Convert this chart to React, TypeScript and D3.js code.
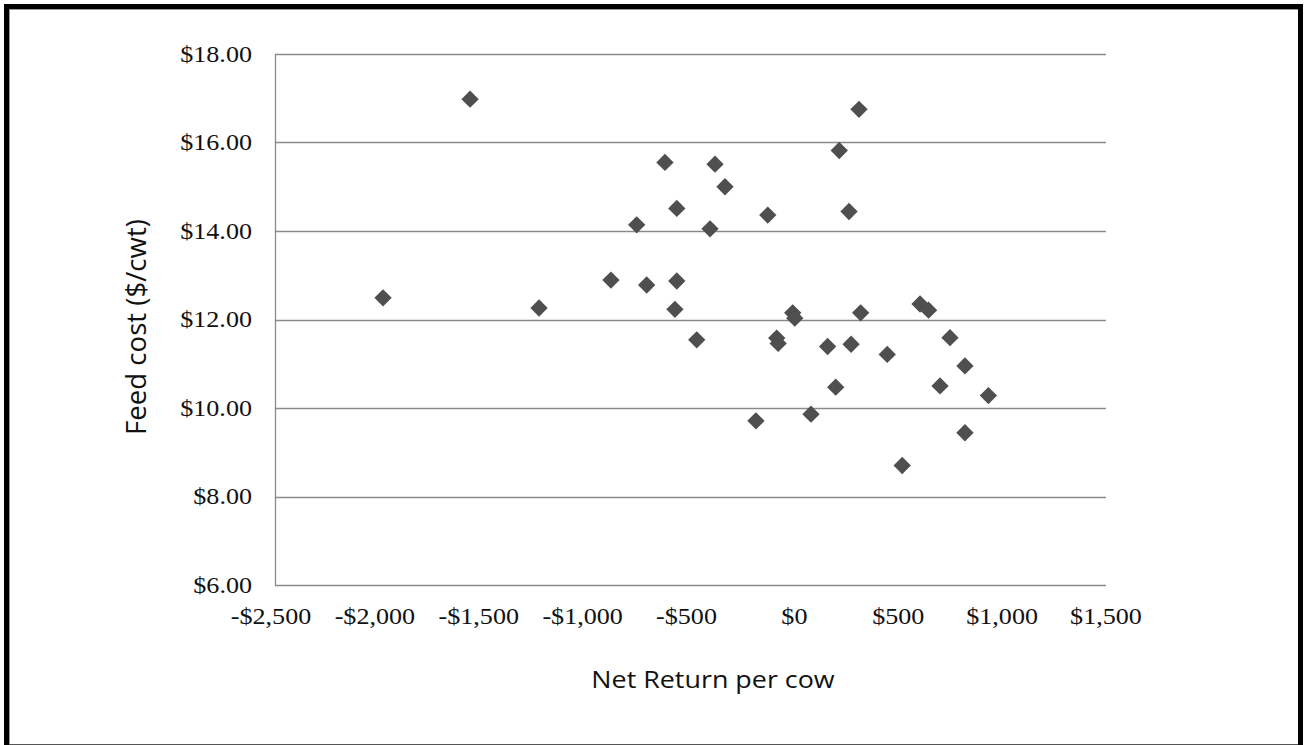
import React, { useEffect, useRef } from "react";
import * as d3 from "d3";

const netReturn = [
  -1980, -1561, -1229, -883, -759, -711, -623, -566, -566, -575, -382, -334, -406, -128, -470,
  311, 216, 263, -8, 2, 319, 605, 646, -85, -78, 160, 273, 447, 749, 821, 199, 701, 934, -185,
  80, 821, 519,
];
const feedCost = [
  12.49, 16.98, 12.26, 12.89, 14.14, 12.78, 15.55, 14.51, 12.87, 12.23, 15.51, 15.0, 14.05, 14.36,
  11.54, 16.75, 15.82, 14.44, 12.15, 12.03, 12.15, 12.35, 12.21, 11.58, 11.46, 11.39, 11.44, 11.21,
  11.59, 10.95, 10.47, 10.5, 10.28, 9.71, 9.86, 9.44, 8.7,
];
const xTicks = [-2500, -2000, -1500, -1000, -500, 0, 500, 1000, 1500];
const yTicks = [6, 8, 10, 12, 14, 16, 18];
const xTitle = "Net Return per cow";
const yTitle = "Feed cost ($/cwt)";

const W = 1304;
const H = 745;
const plot = { left: 275, right: 1106, top: 54, bottom: 585 };

const diamond = {
  draw(ctx: any, size: number) {
    const r = Math.sqrt(size / 2);
    ctx.moveTo(0, -r);
    ctx.lineTo(r, 0);
    ctx.lineTo(0, r);
    ctx.lineTo(-r, 0);
    ctx.closePath();
  },
};

export default function App() {
  const ref = useRef<SVGSVGElement>(null);

  useEffect(() => {
    const svg = d3.select(ref.current);
    svg.selectAll("*").remove();

    const x = d3.scaleLinear().domain([-2500, 1500]).range([plot.left, plot.right]);
    const y = d3.scaleLinear().domain([6, 18]).range([plot.bottom, plot.top]);

    // frame
    svg.append("rect").attr("x", 0).attr("y", 0).attr("width", W).attr("height", H).attr("fill", "#fff");
    svg.append("rect").attr("x", 4).attr("y", 4).attr("width", 1299).attr("height", 741).attr("fill", "#000");
    svg.append("rect").attr("x", 9).attr("y", 9).attr("width", 1289).attr("height", 735).attr("fill", "#fff");
    svg.append("line").attr("x1", 9).attr("x2", 1298).attr("y1", 9.5).attr("y2", 9.5).attr("stroke", "#999").attr("stroke-width", 1);
    svg.append("line").attr("x1", 9.5).attr("x2", 9.5).attr("y1", 9).attr("y2", 744).attr("stroke", "#999").attr("stroke-width", 1);
    svg.append("line").attr("x1", 9).attr("x2", 1298).attr("y1", 744.5).attr("y2", 744.5).attr("stroke", "#555").attr("stroke-width", 1);

    // gridlines
    const g = svg.append("g");
    g.selectAll("line.grid")
      .data(yTicks)
      .join("line")
      .attr("x1", plot.left)
      .attr("x2", plot.right)
      .attr("y1", (d) => Math.round(y(d)) + 0.5)
      .attr("y2", (d) => Math.round(y(d)) + 0.5)
      .attr("stroke", "#8a8a8a")
      .attr("stroke-width", 1.3);
    g.append("line")
      .attr("x1", plot.left + 0.5)
      .attr("x2", plot.left + 0.5)
      .attr("y1", plot.top)
      .attr("y2", plot.bottom + 0.5)
      .attr("stroke", "#8a8a8a")
      .attr("stroke-width", 1.3);

    // y tick labels
    const yFmt = (d: number) => "$" + d.toFixed(2);
    svg
      .append("g")
      .selectAll("text")
      .data(yTicks)
      .join("text")
      .attr("transform", (d) => `translate(252, ${y(d) + 7.7}) scale(1.16, 1)`)
      .attr("text-anchor", "end")
      .attr("font-family", "'Liberation Serif', 'Times New Roman', serif")
      .attr("font-size", 22.5)
      .attr("fill", "#111")
      .text(yFmt);

    // x tick labels
    const xFmt = (d: number) => (d < 0 ? "-" : "") + "$" + d3.format(",")(Math.abs(d));
    svg
      .append("g")
      .selectAll("text")
      .data(xTicks)
      .join("text")
      .attr("transform", (d) => `translate(${x(d) - (d < 0 ? 4 : 0)}, 624) scale(1.16, 1)`)
      .attr("text-anchor", "middle")
      .attr("font-family", "'Liberation Serif', 'Times New Roman', serif")
      .attr("font-size", 22.5)
      .attr("fill", "#111")
      .text(xFmt);

    // titles
    svg
      .append("text")
      .attr("transform", `translate(713, 688) scale(1.12, 1)`)
      .attr("text-anchor", "middle")
      .attr("font-family", "'Open Sans', sans-serif")
      .attr("font-size", 24)
      .attr("fill", "#111")
      .text(xTitle);
    svg
      .append("text")
      .attr("transform", `translate(146, 327) rotate(-90) scale(1.15, 1.12)`)
      .attr("text-anchor", "middle")
      .attr("font-family", "'Open Sans', sans-serif")
      .attr("font-size", 24)
      .attr("fill", "#111")
      .text(yTitle);

    // points
    const sym = d3.symbol().type(diamond as any).size(150);
    svg
      .append("g")
      .selectAll("path")
      .data(netReturn.map((v, i) => [v, feedCost[i]]))
      .join("path")
      .attr("transform", (d) => `translate(${x(d[0])}, ${y(d[1])})`)
      .attr("d", sym as any)
      .attr("fill", "#4f4f4f");
  }, []);

  return (
    <div style={{ position: "absolute", left: 0, top: 0 }}>
      <svg ref={ref} width={W} height={H} style={{ display: "block" }} />
    </div>
  );
}
